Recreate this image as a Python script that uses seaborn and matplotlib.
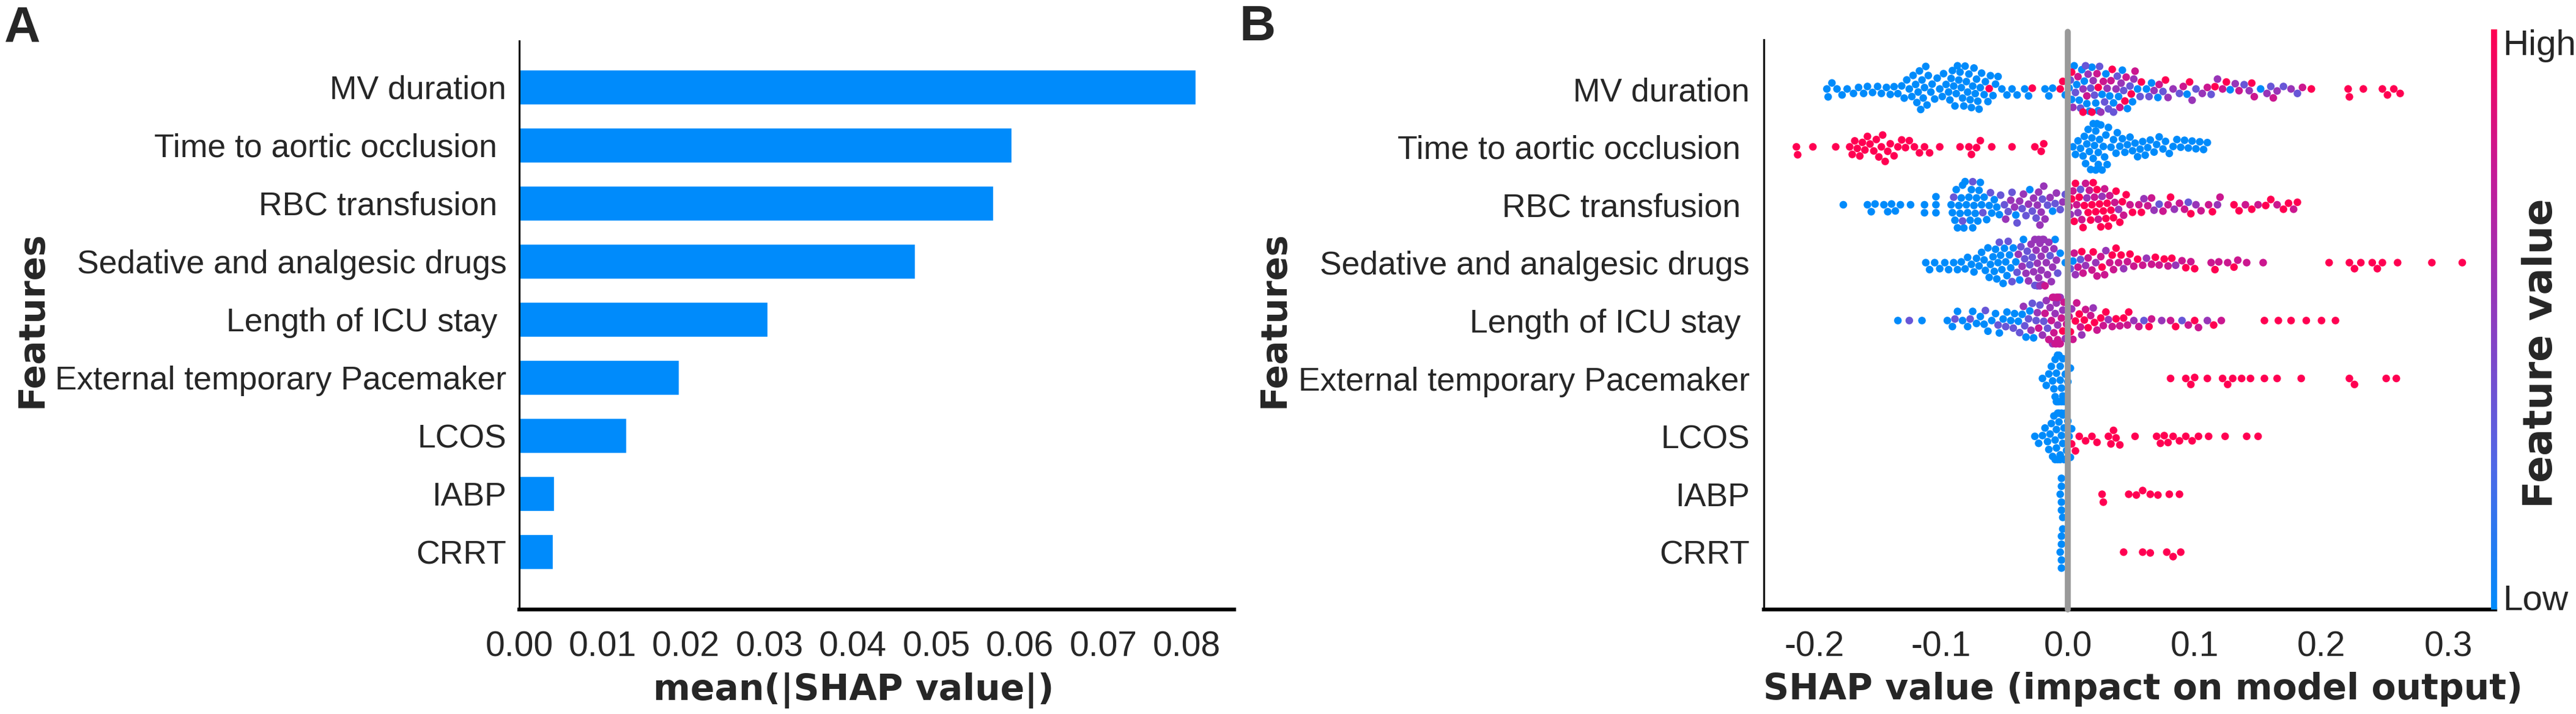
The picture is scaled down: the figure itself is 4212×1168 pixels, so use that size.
import numpy as np
import pandas as pd
import seaborn as sns
import matplotlib.pyplot as plt
from matplotlib.colors import LinearSegmentedColormap, Normalize
from matplotlib.cm import ScalarMappable

# feature names (a few carry a trailing space, as in the original figure)
features = ['MV duration', 'Time to aortic occlusion ', 'RBC transfusion ',
            'Sedative and analgesic drugs', 'Length of ICU stay ',
            'External temporary Pacemaker', 'LCOS', 'IABP', 'CRRT']

# panel A: mean(|SHAP value|)
mean_abs_shap = [0.0811, 0.0590, 0.0568, 0.0474, 0.0298, 0.0191, 0.0128, 0.0042, 0.0040]
a_ticks = [0.00, 0.01, 0.02, 0.03, 0.04, 0.05, 0.06, 0.07, 0.08]
a_ticklabels = ['0.00', '0.01', '0.02', '0.03', '0.04', '0.05', '0.06', '0.07', '0.08']

b_ticks = [-0.2, -0.1, 0.0, 0.1, 0.2, 0.3]
b_ticklabels = ['-0.2', '-0.1', '0.0', '0.1', '0.2', '0.3']

# panel B: SHAP values per feature, grouped by feature-value level
# levels: blue (low), violet, purple, magenta, red (high)
fval_levels = [0.0, 0.35, 0.55, 0.78, 1.0]

mv_blue = [-0.190, -0.189, -0.186, -0.182, -0.178, -0.174, -0.169, -0.165, -0.161, -0.158,
           -0.154, -0.150, -0.147, -0.143, -0.140, -0.137, -0.134, -0.131,
           -0.129, -0.127, -0.125, -0.123, -0.122, -0.120,
           -0.119, -0.118, -0.117, -0.116, -0.115, -0.114, -0.113, -0.112, -0.111, -0.110, -0.108, -0.107,
           -0.105, -0.103, -0.101, -0.099, -0.098, -0.096, -0.094,
           -0.093, -0.092, -0.091, -0.090, -0.089, -0.088, -0.087, -0.086, -0.085, -0.084, -0.083,
           -0.082, -0.081, -0.080, -0.079, -0.078, -0.077, -0.076, -0.075, -0.074, -0.073, -0.072,
           -0.071, -0.070, -0.069, -0.068, -0.066, -0.065,
           -0.063, -0.061, -0.059, -0.057, -0.055,
           -0.052, -0.048, -0.044, -0.040, -0.034, -0.031, -0.018, -0.015, -0.012,
           -0.002, 0.001, 0.003, 0.005, 0.007, 0.009, 0.011, 0.013, 0.015, 0.017, 0.019,
           0.022, 0.024, 0.027, 0.030, 0.033, 0.036, 0.040, 0.043, 0.047, 0.051, 0.055,
           0.062, 0.066, 0.071, 0.094, 0.128, 0.152]
mv_violet = [0.002, 0.006, 0.010, 0.014, 0.018, 0.021, 0.025, 0.029, 0.032, 0.036, 0.039, 0.044,
             0.049, 0.057, 0.064, 0.075, 0.088, 0.101, 0.113, 0.139, 0.160, 0.170, 0.181]
mv_purple = [0.004, 0.012, 0.016, 0.020, 0.026, 0.031, 0.038, 0.042, 0.052, 0.068, 0.079,
             0.083, 0.098, 0.106, 0.118, 0.132, 0.143, 0.157, 0.165, 0.176]
mv_magenta = [0.008, 0.015, 0.023, 0.028, 0.034, 0.041, 0.046, 0.053, 0.072, 0.091, 0.110,
              0.122, 0.135, 0.147, 0.162, 0.185]
mv_red = [-0.062, -0.028, -0.006, -0.004, 0.003, 0.012, 0.019, 0.024, 0.035, 0.045, 0.050,
          0.058, 0.077, 0.096, 0.116, 0.125, 0.145, 0.192, 0.221, 0.222, 0.233, 0.248,
          0.252, 0.257, 0.262]

tao_blue = [0.004, 0.006, 0.008, 0.010, 0.012, 0.013, 0.014, 0.015, 0.016, 0.017,
            0.018, 0.019, 0.020, 0.020, 0.021, 0.022, 0.022, 0.023, 0.024,
            0.024, 0.025, 0.026, 0.027, 0.028, 0.029, 0.030, 0.031, 0.032,
            0.034, 0.036, 0.038, 0.039, 0.041, 0.043, 0.045, 0.047, 0.049, 0.051, 0.053,
            0.055, 0.057, 0.059, 0.061, 0.063, 0.065, 0.068, 0.070, 0.072, 0.075, 0.077,
            0.080, 0.083, 0.086, 0.089, 0.092, 0.095, 0.098, 0.101, 0.104, 0.107, 0.110]
tao_red = [-0.214, -0.213, -0.201, -0.183, -0.172, -0.170, -0.168, -0.166, -0.164, -0.162,
           -0.160, -0.158, -0.156, -0.153, -0.151, -0.149, -0.147, -0.146, -0.144, -0.142,
           -0.140, -0.137, -0.134, -0.131, -0.128, -0.125, -0.121, -0.117, -0.113, -0.109,
           -0.101, -0.085, -0.078, -0.076, -0.072, -0.069, -0.060, -0.044, -0.026, -0.021, -0.019]

rbc_blue = [-0.177, -0.158, -0.155, -0.152, -0.145, -0.142, -0.139, -0.136, -0.132, -0.124,
            -0.113, -0.113, -0.104, -0.104, -0.104, -0.092, -0.091, -0.089, -0.088, -0.087,
            -0.086, -0.085, -0.084, -0.083, -0.082, -0.081, -0.080, -0.079, -0.078, -0.077,
            -0.076, -0.075, -0.074, -0.073, -0.072, -0.071, -0.070, -0.069, -0.068, -0.066,
            -0.064, -0.062, -0.060, -0.058, -0.056, -0.054, -0.041, -0.030, -0.012]
rbc_violet = [-0.090, -0.083, -0.075, -0.067, -0.061, -0.053, -0.050, -0.047, -0.044, -0.040,
              -0.036, -0.033, -0.028, -0.025, -0.020, -0.016, -0.010, -0.006, -0.002, 0.010,
              0.072, 0.095]
rbc_purple = [-0.049, -0.045, -0.042, -0.038, -0.035, -0.031, -0.027, -0.024, -0.023, -0.022,
              -0.021, -0.019, -0.018, -0.014, -0.009, -0.004, 0.002, 0.008, 0.015, 0.027,
              0.040, 0.060, 0.068, 0.084, 0.101, 0.118]
rbc_magenta = [0.001, 0.004, 0.007, 0.011, 0.014, 0.017, 0.021, 0.024, 0.029, 0.033, 0.037,
               0.044, 0.049, 0.056, 0.063, 0.066, 0.075, 0.079, 0.088, 0.092, 0.105, 0.111,
               0.120, 0.140, 0.150, 0.165, 0.178]
rbc_red = [0.003, 0.005, 0.006, 0.009, 0.012, 0.013, 0.016, 0.018, 0.019, 0.020, 0.022, 0.023,
           0.025, 0.026, 0.028, 0.030, 0.031, 0.032, 0.034, 0.036, 0.038, 0.041, 0.043, 0.046,
           0.051, 0.058, 0.081, 0.097, 0.114, 0.131, 0.135, 0.145, 0.156, 0.160, 0.170, 0.174, 0.181]

sed_blue = [-0.112, -0.109, -0.105, -0.101, -0.097, -0.094, -0.090, -0.087, -0.084, -0.081,
            -0.079, -0.076, -0.074, -0.072, -0.070, -0.068, -0.066, -0.065, -0.063, -0.062,
            -0.061, -0.059, -0.058, -0.057, -0.056, -0.055, -0.053, -0.052, -0.051, -0.050,
            -0.049, -0.048, -0.046, -0.045, -0.043, -0.041, -0.038, -0.035, -0.010, -0.006,
            -0.002, 0.004]
sed_violet = [-0.054, -0.047, -0.044, -0.040, -0.037, -0.034, -0.032, -0.030, -0.028, -0.026,
              -0.024, -0.014, -0.008, 0.002, 0.010]
sed_purple = [-0.039, -0.036, -0.033, -0.031, -0.029, -0.027, -0.026, -0.025, -0.024, -0.023,
              -0.023, -0.022, -0.022, -0.021, -0.021, -0.020, -0.020, -0.019, -0.018, -0.017,
              -0.016, -0.015, -0.013, -0.012, -0.011, -0.009, 0.006, 0.014, 0.022, 0.030,
              0.044, 0.062, 0.085]
sed_magenta = [-0.018, 0.005, 0.008, 0.012, 0.016, 0.019, 0.023, 0.026, 0.029, 0.033, 0.036,
               0.040, 0.047, 0.052, 0.059, 0.066, 0.072, 0.079, 0.090, 0.097, 0.113, 0.119,
               0.126, 0.134, 0.141, 0.154]
sed_red = [0.011, 0.020, 0.027, 0.035, 0.038, 0.042, 0.049, 0.055, 0.069, 0.076, 0.082, 0.093,
           0.100, 0.116, 0.131, 0.206, 0.222, 0.226, 0.231, 0.240, 0.244, 0.248, 0.260, 0.287, 0.311]

icu_blue = [-0.134, -0.115, -0.095, -0.091, -0.087, -0.083, -0.079, -0.075, -0.072, -0.069,
            -0.066, -0.063, -0.060, -0.057, -0.054, -0.051, -0.048, -0.045, -0.042, -0.039,
            -0.036, -0.033, -0.030, -0.027]
icu_violet = [-0.125, -0.089, -0.077, -0.065, -0.055, -0.049, -0.043, -0.038, -0.034, -0.031,
              -0.028, -0.025, -0.022, -0.019, -0.016, 0.060, 0.090]
icu_purple = [-0.035, -0.029, -0.024, -0.020, -0.017, -0.014, -0.012, -0.011, -0.010, -0.009,
              -0.008, -0.007, -0.006, -0.004, -0.002, 0.003, 0.011, 0.020, 0.032, 0.052, 0.074, 0.110]
icu_magenta = [-0.023, -0.018, -0.015, -0.013, -0.012, -0.011, -0.010, -0.009, -0.009, -0.008,
               -0.008, -0.007, -0.006, -0.005, -0.003, -0.001, 0.001, 0.004, 0.007, 0.010,
               0.014, 0.018, 0.023, 0.028, 0.035, 0.041, 0.047, 0.056, 0.066, 0.081, 0.095,
               0.103, 0.121]
icu_red = [-0.004, 0.002, 0.006, 0.009, 0.013, 0.016, 0.021, 0.026, 0.030, 0.038, 0.044, 0.048,
           0.064, 0.085, 0.100, 0.115, 0.155, 0.166, 0.176, 0.188, 0.200, 0.211]

pace_blue = [-0.020, -0.017, -0.015, -0.013, -0.012, -0.011, -0.010, -0.010, -0.009, -0.009,
             -0.008, -0.008, -0.008, -0.007, -0.007, -0.006, -0.006, -0.005,
             -0.005, -0.004, -0.004, -0.003, -0.002, 0.000, 0.002]
pace_red = [0.081, 0.093, 0.097, 0.100, 0.110, 0.122, 0.126, 0.130, 0.137, 0.144, 0.155, 0.165,
            0.184, 0.222, 0.226, 0.251, 0.259]

lcos_blue = [-0.026, -0.023, -0.020, -0.018, -0.016, -0.015, -0.014, -0.013, -0.012, -0.011,
             -0.010, -0.010, -0.009, -0.009, -0.008, -0.008, -0.007, -0.007, -0.006, -0.006,
             -0.005, -0.005, -0.004, -0.004, -0.003, -0.003, -0.002, -0.002, -0.001,
             0.000, 0.001, 0.002, 0.003]
lcos_red = [0.003, 0.006, 0.009, 0.014, 0.019, 0.023, 0.032, 0.034, 0.036, 0.038, 0.041, 0.053,
            0.070, 0.073, 0.076, 0.079, 0.083, 0.088, 0.093, 0.098, 0.103, 0.111, 0.124, 0.141, 0.150]

iabp_blue = [-0.006, -0.005, -0.005, -0.005, -0.005, -0.004]
iabp_red = [0.027, 0.028, 0.048, 0.054, 0.059, 0.065, 0.071, 0.080, 0.088]

crrt_blue = [-0.006, -0.005, -0.005, -0.005, -0.005, -0.004]
crrt_red = [0.044, 0.059, 0.065, 0.078, 0.083, 0.089]

swarm_sets = [
    (features[0], mv_blue, mv_violet, mv_purple, mv_magenta, mv_red),
    (features[1], tao_blue, [], [], [], tao_red),
    (features[2], rbc_blue, rbc_violet, rbc_purple, rbc_magenta, rbc_red),
    (features[3], sed_blue, sed_violet, sed_purple, sed_magenta, sed_red),
    (features[4], icu_blue, icu_violet, icu_purple, icu_magenta, icu_red),
    (features[5], pace_blue, [], [], [], pace_red),
    (features[6], lcos_blue, [], [], [], lcos_red),
    (features[7], iabp_blue, [], [], [], iabp_red),
    (features[8], crrt_blue, [], [], [], crrt_red),
]

records = []
for name, *groups in swarm_sets:
    for lvl, vals in zip(fval_levels, groups):
        records += [(name, v, lvl) for v in vals]
swarm_df = pd.DataFrame(records, columns=['feature', 'shap', 'fval'])

# shap-like blue -> red colormap
shap_cmap = LinearSegmentedColormap.from_list(
    'shap_red_blue', [(0.0, '#008bfb'), (0.25, '#5067e6'), (0.5, '#8d3cc0'),
                      (0.75, '#c41a98'), (1.0, '#ff0052')])
bar_color = '#008bfb'

sns.set_style('white')
plt.rcParams['font.family'] = ['Liberation Sans', 'DejaVu Sans']
plt.rcParams['axes.unicode_minus'] = False

W, H = 4212, 1168
fig = plt.figure(figsize=(W / 100, H / 100), dpi=100)


def px_axes(left, right, top, bottom):
    return fig.add_axes([left / W, (H - bottom) / H, (right - left) / W, (bottom - top) / H])


ax_a = px_axes(849, 2018, 67, 997)
ax_b = px_axes(2884, 4080, 65, 997)
cax = px_axes(4073, 4083, 48, 997)

label_font = dict(fontsize=42, fontweight='bold', family='DejaVu Sans')

# ---- panel A: bar chart ----
sns.barplot(x=mean_abs_shap, y=features, orient='h', color=bar_color, saturation=1,
            width=0.6, errorbar=None, ax=ax_a)
ax_a.set_xlim(0, 0.0857)
ax_a.set_ylim(8.99, -0.79)
ax_a.set_xticks(a_ticks, a_ticklabels)
ax_a.set_xlabel('mean(|SHAP value|)', **label_font)
ax_a.xaxis.set_label_coords(0.468, -0.111)
ax_a.set_ylabel('Features', **label_font)
ax_a.yaxis.set_label_coords(-0.657, 0.51)
ax_a.tick_params(axis='y', length=0, pad=15, labelsize=38.5)
ax_a.tick_params(axis='x', length=7, width=2.2, pad=18, labelsize=41, direction='out')

# ---- panel B: beeswarm ----
sns.swarmplot(data=swarm_df, x='shap', y='feature', hue='fval', order=features,
              palette=shap_cmap, hue_norm=(0, 1), size=9, linewidth=0, legend=False,
              warn_thresh=1, ax=ax_b)
ax_b.axvline(0, ymin=0, ymax=1.014, color='#999999', lw=7, zorder=3, clip_on=False)
ax_b.set_xlim(-0.2397, 0.337)
ax_b.set_ylim(8.99, -0.85)
ax_b.set_xticks(b_ticks, b_ticklabels)
ax_b.set_xlabel('SHAP value (impact on model output)', **label_font)
ax_b.xaxis.set_label_coords(0.518, -0.109)
ax_b.set_ylabel('Features', **label_font)
ax_b.yaxis.set_label_coords(-0.6455, 0.509)
ax_b.tick_params(axis='y', length=0, pad=16.5, labelsize=38.5)
ax_b.tick_params(axis='x', length=7, width=2.2, pad=18, labelsize=41, direction='out')

for ax in (ax_a, ax_b):
    sns.despine(ax=ax)
    ax.spines['left'].set_linewidth(2.2)
    ax.spines['bottom'].set_linewidth(4.5)
    ax.spines['left'].set_color('black')
    ax.spines['bottom'].set_color('black')
    ax.grid(False)

# ---- colour bar ----
cb = fig.colorbar(ScalarMappable(norm=Normalize(0, 1), cmap=shap_cmap), cax=cax)
cb.outline.set_visible(False)
cb.set_ticks([0, 1], labels=['Low', 'High'])
cax.tick_params(length=0, pad=7, labelsize=42)
cax.get_yticklabels()[0].set_verticalalignment('baseline')
cax.get_yticklabels()[1].set_verticalalignment('top')
cb.set_label('Feature value', fontsize=47, fontweight='bold', family='DejaVu Sans')
cax.yaxis.set_label_coords(5.0, 0.4415)

# panel letters
fig.text(7 / W, 1 - 8 / H, 'A', ha='left', va='top', fontsize=59, fontweight='bold')
fig.text(2027 / W, 1 - 7 / H, 'B', ha='left', va='top', fontsize=59, fontweight='bold')

fig.savefig('out.png', dpi=100)
